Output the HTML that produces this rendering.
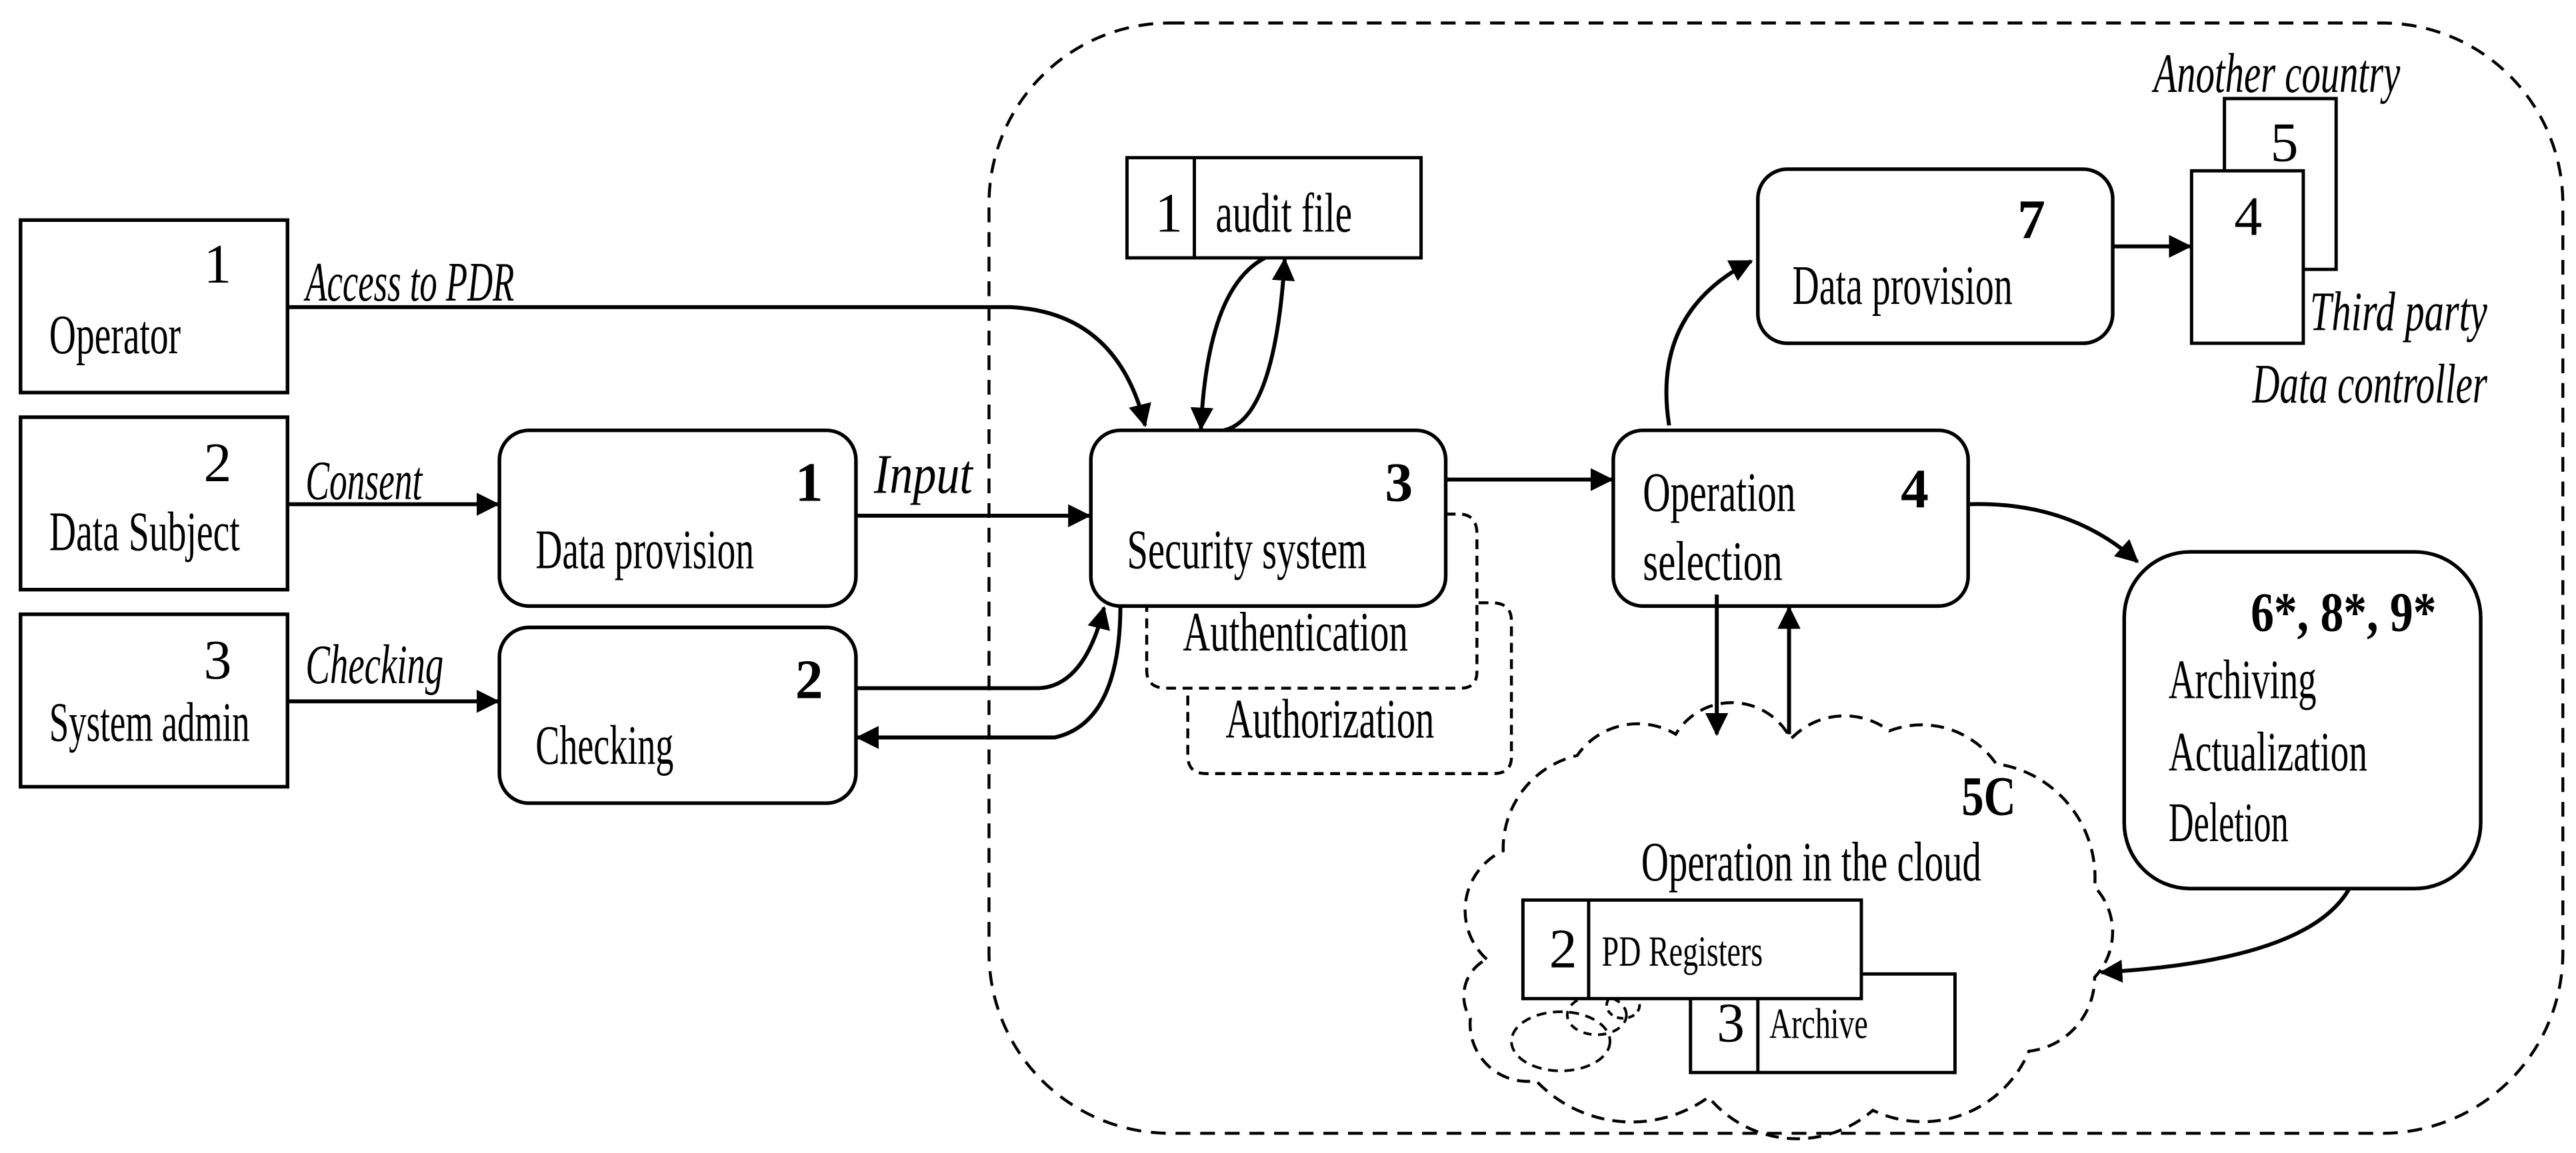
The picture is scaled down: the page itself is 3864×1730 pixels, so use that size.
<!DOCTYPE html>
<html><head><meta charset="utf-8"><style>
html,body{margin:0;padding:0;background:#fff;}
svg{display:block;}
text{font-family:"Liberation Serif",serif;fill:#000;}
.i{font-style:italic;}
.b{font-weight:bold;}
</style></head><body>
<svg width="3864" height="1730" viewBox="0 0 1568 702" preserveAspectRatio="none" xmlns="http://www.w3.org/2000/svg">
<defs>
<marker id="h" viewBox="0 0 12 12" refX="11" refY="6" markerWidth="14" markerHeight="14" orient="auto-start-reverse" markerUnits="userSpaceOnUse"><path d="M0,0 L12,6 L0,12 z" fill="#000"/></marker>
</defs>
<g fill="none" stroke="#000">
<rect x="602" y="14" width="958" height="676" rx="110" stroke-width="1.8" stroke-dasharray="9,6"/>
<rect x="12.5" y="134" width="162.5" height="105" stroke-width="2.2"/>
<rect x="12.5" y="254" width="162.5" height="105" stroke-width="2.2"/>
<rect x="12.5" y="374" width="162.5" height="105" stroke-width="2.2"/>
<rect x="304" y="262" width="217" height="107" rx="18" stroke-width="2.2"/>
<rect x="304" y="382" width="217" height="107" rx="18" stroke-width="2.2"/>
<rect x="664" y="262" width="216" height="107" rx="18" stroke-width="2.2"/>
<rect x="982" y="262" width="216" height="107" rx="18" stroke-width="2.2"/>
<rect x="1070" y="103" width="216" height="106" rx="18" stroke-width="2.2"/>
<rect x="1293" y="336" width="217" height="205" rx="40" stroke-width="2.2"/>
<path d="M880,313 L888,313 Q899,313 899,325 L899,409 Q899,419 889,419 L710,419 Q698,419 698,408 L698,369" stroke-width="1.8" stroke-dasharray="6,4"/>
<path d="M900,367 L908,367 Q920,367 920,378 L920,461 Q920,471 909,471 L734,471 Q723,471 723,460 L723,419" stroke-width="1.8" stroke-dasharray="6,4"/>
<rect x="686" y="96" width="179" height="61" stroke-width="2"/>
<line x1="727" y1="96" x2="727" y2="157" stroke-width="2"/>
<path d="M1354,104 L1354,60 L1422,60 L1422,164 L1402,164" stroke-width="2"/>
<rect x="1334" y="104" width="68" height="105" stroke-width="2"/>
<path d="M905,584 A40,40 0 0 1 915,518 A58,58 0 0 1 960,460 A45,45 0 0 1 1020,447 A40,40 0 0 1 1090,450 A45,45 0 0 1 1150,445 A55,55 0 0 1 1215,465 A70,70 0 0 1 1275,540 A40,40 0 0 1 1275,595 A45,45 0 0 1 1235,640 A70,70 0 0 1 1140,676 A70,70 0 0 1 1040,668 A80,80 0 0 1 935,658 A35,35 0 0 1 895,620 A25,25 0 0 1 905,584" stroke-width="1.8" stroke-dasharray="8,5"/>
<ellipse cx="950" cy="634" rx="30" ry="18" stroke-width="1.6" stroke-dasharray="6,4"/>
<ellipse cx="972" cy="618" rx="18" ry="12" stroke-width="1.6" stroke-dasharray="5,4"/>
<ellipse cx="988" cy="612" rx="10" ry="8" stroke-width="1.6" stroke-dasharray="4,3"/>
<rect x="1029" y="593" width="161" height="60" fill="#fff" stroke-width="2"/>
<line x1="1070" y1="593" x2="1070" y2="653" stroke-width="2"/>
<rect x="927" y="548" width="206" height="60" fill="#fff" stroke-width="2"/>
<line x1="967" y1="548" x2="967" y2="608" stroke-width="2"/>
<g stroke-width="2.4">
<path d="M175,187 L615,187 Q680,190 697,259" marker-end="url(#h)"/>
<path d="M175,307 L303,307" marker-end="url(#h)"/>
<path d="M175,427 L303,427" marker-end="url(#h)"/>
<path d="M521,314 L663,314" marker-end="url(#h)"/>
<path d="M521,419 L632,419 Q660,418 672,370" marker-end="url(#h)"/>
<path d="M682,368 Q682,440 642,449 L522,449" marker-end="url(#h)"/>
<path d="M745,262 Q776,255 782,158" marker-end="url(#h)"/>
<path d="M770,157 Q735,175 731,261" marker-end="url(#h)"/>
<path d="M880,292 L981,292" marker-end="url(#h)"/>
<path d="M1016,259 Q1005,190 1066,159" marker-end="url(#h)"/>
<path d="M1286,150 L1333,150" marker-end="url(#h)"/>
<path d="M1198,307 Q1260,305 1301,342" marker-end="url(#h)"/>
<path d="M1430,541 Q1405,585 1279,592" marker-end="url(#h)"/>
<path d="M1045,362 L1045,447" marker-end="url(#h)"/>
<path d="M1089,447 L1089,370" marker-end="url(#h)"/>
</g>
</g>
<g font-size="34">
<text x="124" y="172">1</text>
<text x="30" y="215" textLength="80" lengthAdjust="spacingAndGlyphs">Operator</text>
<text x="124" y="293">2</text>
<text x="30" y="335" textLength="116" lengthAdjust="spacingAndGlyphs">Data Subject</text>
<text x="124" y="413">3</text>
<text x="30" y="451" textLength="122" lengthAdjust="spacingAndGlyphs">System admin</text>
<text class="i" x="186" y="183" textLength="127" lengthAdjust="spacingAndGlyphs">Access to PDR</text>
<text class="i" x="186" y="304" textLength="71" lengthAdjust="spacingAndGlyphs">Consent</text>
<text class="i" x="186" y="416" textLength="84" lengthAdjust="spacingAndGlyphs">Checking</text>
<text class="i" x="532" y="300" textLength="60" lengthAdjust="spacingAndGlyphs">Input</text>
<text class="b" x="484" y="305">1</text>
<text x="326" y="346" textLength="133" lengthAdjust="spacingAndGlyphs">Data provision</text>
<text class="b" x="484" y="425">2</text>
<text x="326" y="465" textLength="84" lengthAdjust="spacingAndGlyphs">Checking</text>
<text class="b" x="843" y="305">3</text>
<text x="686" y="346" textLength="146" lengthAdjust="spacingAndGlyphs">Security system</text>
<text x="720" y="396" textLength="137" lengthAdjust="spacingAndGlyphs">Authentication</text>
<text x="746" y="449" textLength="127" lengthAdjust="spacingAndGlyphs">Authorization</text>
<text x="703" y="141">1</text>
<text x="740" y="141" textLength="83" lengthAdjust="spacingAndGlyphs">audit file</text>
<text x="1000" y="311" textLength="93" lengthAdjust="spacingAndGlyphs">Operation</text>
<text x="1000" y="353" textLength="85" lengthAdjust="spacingAndGlyphs">selection</text>
<text class="b" x="1157" y="309">4</text>
<text class="b" x="1228" y="145">7</text>
<text x="1091" y="185" textLength="134" lengthAdjust="spacingAndGlyphs">Data provision</text>
<text x="1382" y="98">5</text>
<text x="1360" y="143">4</text>
<text class="i" x="1311" y="56" textLength="150" lengthAdjust="spacingAndGlyphs">Another country</text>
<text class="i" x="1406" y="201" textLength="108" lengthAdjust="spacingAndGlyphs">Third party</text>
<text class="i" x="1371" y="245" textLength="143" lengthAdjust="spacingAndGlyphs">Data controller</text>
<text class="b" x="1370" y="384" textLength="113" lengthAdjust="spacingAndGlyphs">6*, 8*, 9*</text>
<text x="1320" y="425" textLength="90" lengthAdjust="spacingAndGlyphs">Archiving</text>
<text x="1320" y="469" textLength="121" lengthAdjust="spacingAndGlyphs">Actualization</text>
<text x="1320" y="512" textLength="73" lengthAdjust="spacingAndGlyphs">Deletion</text>
<text class="b" x="1194" y="496" textLength="33" lengthAdjust="spacingAndGlyphs">5C</text>
<text x="999" y="536" textLength="207" lengthAdjust="spacingAndGlyphs">Operation in the cloud</text>
<text x="943" y="589">2</text>
<text x="1045" y="634">3</text>
</g>
<g font-size="26">
<text x="975" y="588" textLength="98" lengthAdjust="spacingAndGlyphs">PD Registers</text>
<text x="1077" y="632" textLength="60" lengthAdjust="spacingAndGlyphs">Archive</text>
</g>
</svg>
</body></html>
